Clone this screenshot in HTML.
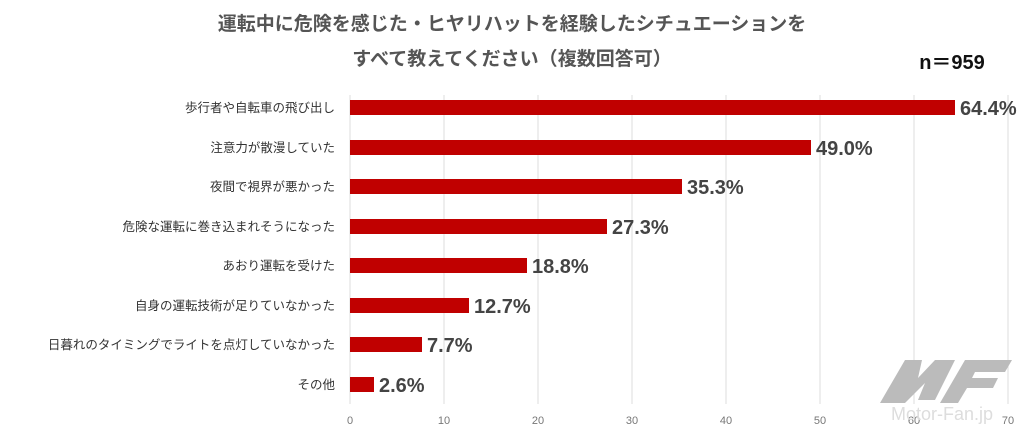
<!DOCTYPE html>
<html><head><meta charset="utf-8"><style>
body{margin:0;background:#fff;width:1024px;height:435px;overflow:hidden;font-family:"Liberation Sans","Noto Sans CJK JP",sans-serif}
</style></head><body>
<svg width="1024" height="435" xmlns="http://www.w3.org/2000/svg" style="font-family:'Liberation Sans','Noto Sans CJK JP',sans-serif">
<text x="512" y="30" text-anchor="middle" font-size="19" font-weight="bold" fill="#555">運転中に危険を感じた・ヒヤリハットを経験したシチュエーションを</text>
<text x="512" y="65" text-anchor="middle" font-size="19" font-weight="bold" fill="#555">すべて教えてください（複数回答可）</text>
<text x="952" y="69" text-anchor="middle" font-size="20" font-weight="bold" fill="#111">n＝959</text>
<g stroke="#ddd" stroke-width="1">
<line x1="350" y1="95" x2="350" y2="404"/><line x1="444" y1="95" x2="444" y2="404"/><line x1="538" y1="95" x2="538" y2="404"/><line x1="632" y1="95" x2="632" y2="404"/><line x1="726" y1="95" x2="726" y2="404"/><line x1="820" y1="95" x2="820" y2="404"/><line x1="914" y1="95" x2="914" y2="404"/><line x1="1008" y1="95" x2="1008" y2="404"/>
</g>
<g font-size="11" fill="#777" text-anchor="middle">
<text x="350" y="424">0</text><text x="444" y="424">10</text><text x="538" y="424">20</text><text x="632" y="424">30</text><text x="726" y="424">40</text><text x="820" y="424">50</text><text x="914" y="424">60</text><text x="1008" y="424">70</text>
</g>
<g fill="#bbb">
<polygon points="880,403 905,360 922,360 918,378 935,360 955,360 935,400 918,400 925,383 905,403"/>
<polygon points="940,403 965,360 1012,360 1005,372 975,372 972,378 998,378 993,388 967,388 958,403"/>
</g>
<text x="942" y="420" font-size="18" fill="#ddd" text-anchor="middle">Motor-Fan.jp</text>
<g fill="#c00000">
<rect x="350" y="100" width="605" height="15"/>
<rect x="350" y="140" width="461" height="15"/>
<rect x="350" y="179" width="332" height="15"/>
<rect x="350" y="219" width="257" height="15"/>
<rect x="350" y="258" width="177" height="15"/>
<rect x="350" y="298" width="119" height="15"/>
<rect x="350" y="337" width="72" height="15"/>
<rect x="350" y="377" width="24" height="15"/>
</g>
<g font-size="20" font-weight="bold" fill="#444">
<text x="960" y="115">64.4%</text>
<text x="816" y="155">49.0%</text>
<text x="687" y="194">35.3%</text>
<text x="612" y="234">27.3%</text>
<text x="532" y="273">18.8%</text>
<text x="474" y="313">12.7%</text>
<text x="427" y="352">7.7%</text>
<text x="379" y="392">2.6%</text>
</g>
<g font-size="12.5" fill="#333" text-anchor="end">
<text x="335" y="112">歩行者や自転車の飛び出し</text>
<text x="335" y="152">注意力が散漫していた</text>
<text x="335" y="191">夜間で視界が悪かった</text>
<text x="335" y="231">危険な運転に巻き込まれそうになった</text>
<text x="335" y="270">あおり運転を受けた</text>
<text x="335" y="310">自身の運転技術が足りていなかった</text>
<text x="335" y="349">日暮れのタイミングでライトを点灯していなかった</text>
<text x="335" y="389">その他</text>
</g>
</svg>
</body></html>
